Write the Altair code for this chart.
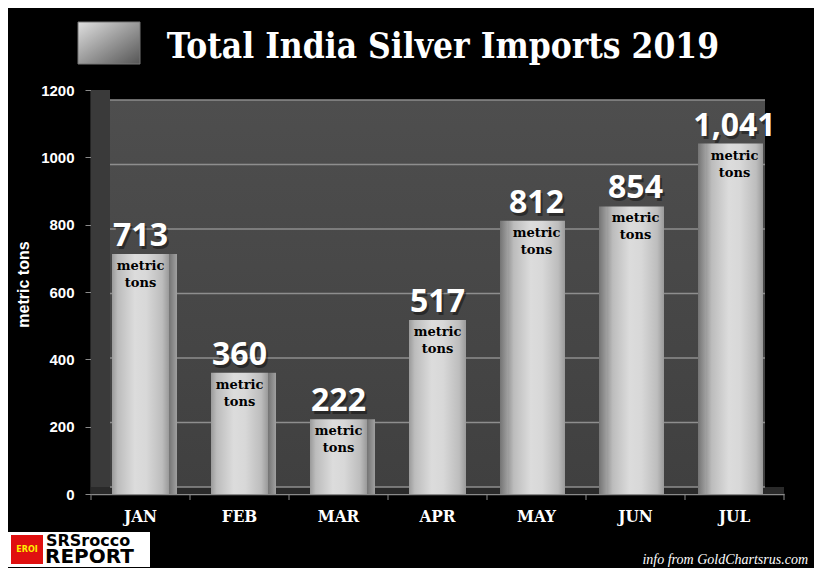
import altair as alt
import pandas as pd

# ---- data ----
months = ["JAN", "FEB", "MAR", "APR", "MAY", "JUN", "JUL"]
imports = [713, 360, 222, 517, 812, 854, 1041]
value_labels = ["713", "360", "222", "517", "812", "854", "1,041"]
unit_text = "metric\ntons"
y_ticks = [0, 200, 400, 600, 800, 1000, 1200]
title_text = "Total India Silver Imports 2019"
y_title = "metric tons"
source_note = "info from GoldChartsrus.com"
logo_top = "SRSrocco"
logo_bottom = "REPORT"
logo_badge = "EROI"

df = pd.DataFrame({"month": months, "tons": imports, "label": value_labels,
                   "unit": [unit_text] * len(months)})
grid_df = pd.DataFrame({"v": y_ticks})
one = pd.DataFrame({"k": [0]})

W, H = 693, 404
xsc = alt.Scale(domain=months, paddingInner=0, paddingOuter=0)
ysc = alt.Scale(domain=[0, 1200], nice=False)

def grad(stops, x2=1, y2=0):
    return {"gradient": "linear", "x1": 0, "y1": 0, "x2": x2, "y2": y2,
            "stops": [{"offset": o, "color": c} for o, c in stops]}

def X():
    return alt.X("month:N", sort=months, scale=xsc)

def Y():
    return alt.Y("tons:Q", scale=ysc, axis=None)

# decorative walls
side_wall = alt.Chart(one).mark_rect(color="#3a3a3a").encode(
    x=alt.value(0), x2=alt.value(19), y=alt.value(0), y2=alt.value(H))
back_wall = alt.Chart(one).mark_rect(color=grad([(0, "#4e4e4e"), (1, "#404040")], x2=0, y2=1)).encode(
    x=alt.value(19), x2=alt.value(674), y=alt.value(10), y2=alt.value(397))
floor = alt.Chart(one).mark_rect(color="#2a2a2a").encode(
    x=alt.value(0), x2=alt.value(W), y=alt.value(397), y2=alt.value(H))

grid = alt.Chart(grid_df).mark_rule(color="#8e8e8e", strokeWidth=1.6).encode(
    y=alt.Y("v:Q", scale=alt.Scale(domain=[0, 1200], range=[397, 10]), axis=None),
    x=alt.value(19), x2=alt.value(674))

bar_grad = grad([(0, "#9a9a9a"), (0.1, "#bcbcbc"), (0.4, "#dcdcdc"),
                 (0.6, "#d8d8d8"), (0.88, "#bdbdbd"), (1, "#9a9a9a")])
bars = alt.Chart(df).mark_bar(size=57, color=bar_grad).encode(
    x=alt.X("month:N", sort=months, scale=xsc,
            axis=alt.Axis(title=None, ticks=False, labelColor="white",
                          labelFont="DejaVu Serif Condensed", labelFontWeight="bold",
                          labelFontSize=17, labelPadding=14, labelAngle=0,
                          domainColor="#8a8a8a", domainWidth=1.5)),
    y=alt.Y("tons:Q", scale=ysc,
            axis=alt.Axis(values=y_ticks, format="d", title=y_title, grid=False,
                          labelColor="white", labelFont="Liberation Sans",
                          labelFontWeight="bold", labelFontSize=15, labelPadding=11,
                          tickColor="#8a8a8a", tickSize=6, domainColor="#8a8a8a",
                          domainWidth=1.5, titleColor="white", titleFont="Liberation Sans",
                          titleFontWeight="bold", titleFontSize=16, titleX=-60, titleY=194,
                          titleAngle=270)))

side_grad = grad([(0, "#747474"), (1, "#a0a0a0")])
side_right = alt.Chart(df).mark_bar(size=8, xOffset=32.5, color=side_grad).encode(
    x=X(), y=Y()
).transform_filter(alt.FieldOneOfPredicate(field="month", oneOf=months[:3]))
side_left = alt.Chart(df).mark_bar(size=8, xOffset=-32.5, color=side_grad).encode(
    x=X(), y=Y()
).transform_filter(alt.FieldOneOfPredicate(field="month", oneOf=months[4:]))

xtick = alt.Chart(df).mark_rule(color="#8a8a8a", xOffset=-49.5).encode(
    x=X(), y=alt.value(H), y2=alt.value(H + 6))
xtick_end = alt.Chart(one).mark_rule(color="#8a8a8a").encode(
    x=alt.value(W), y=alt.value(H), y2=alt.value(H + 6))

val_font = dict(font="Open Sans", fontWeight="bold", fontSize=32, baseline="alphabetic", align="center")
shadow = alt.Chart(df).mark_text(color="black", opacity=0.4, dx=2, dy=-5, **val_font).encode(
    x=X(), y=Y(), text="label:N")
values = alt.Chart(df).mark_text(color="white", dy=-8, **val_font).encode(
    x=X(), y=Y(), text="label:N")
units = alt.Chart(df).mark_text(color="black", font="DejaVu Serif", fontWeight="bold",
                                fontSize=13, baseline="top", dy=6, lineBreak="\n",
                                lineHeight=17).encode(
    x=X(), y=Y(), text="unit:N")

# title and icon
icon = alt.Chart(one).mark_rect(color=grad([(0, "#e0e0e0"), (0.5, "#9a9a9a"), (1, "#555555")], x2=1, y2=1),
                                stroke="#777777").encode(
    x=alt.value(-13), x2=alt.value(49), y=alt.value(-68), y2=alt.value(-26))
title = alt.Chart(pd.DataFrame({"t": [title_text]})).mark_text(
    color="white", font="DejaVu Serif Condensed", fontWeight="bold", fontSize=35,
    align="center", baseline="alphabetic").encode(
    x=alt.value(352), y=alt.value(-32), text="t:N")

# logo and source
logo_bg = alt.Chart(one).mark_rect(color="white").encode(
    x=alt.value(-83), x2=alt.value(59), y=alt.value(442), y2=alt.value(477))
logo_red = alt.Chart(one).mark_rect(color="#e01010").encode(
    x=alt.value(-80), x2=alt.value(-48), y=alt.value(445), y2=alt.value(474))
logo_badge_t = alt.Chart(pd.DataFrame({"t": [logo_badge]})).mark_text(
    color="#ffee00", font="DejaVu Sans", fontWeight="bold", fontSize=8, align="center").encode(
    x=alt.value(-64), y=alt.value(460), text="t:N")
logo_t1 = alt.Chart(pd.DataFrame({"t": [logo_top]})).mark_text(
    color="black", font="DejaVu Sans", fontWeight="bold", fontSize=16,
    align="left", baseline="alphabetic").encode(x=alt.value(-45), y=alt.value(456), text="t:N")
logo_t2 = alt.Chart(pd.DataFrame({"t": [logo_bottom]})).mark_text(
    color="black", font="DejaVu Sans", fontWeight="bold", fontSize=20,
    align="left", baseline="alphabetic").encode(x=alt.value(-46), y=alt.value(473), text="t:N")
source = alt.Chart(pd.DataFrame({"t": [source_note]})).mark_text(
    color="white", font="Liberation Sans Narrow", fontStyle="italic", fontSize=14,
    align="right", baseline="alphabetic").encode(x=alt.value(717), y=alt.value(474), text="t:N")

chart = alt.layer(
    side_wall, back_wall, floor, grid, bars, side_right, side_left, xtick, xtick_end,
    shadow, values, units, icon, title, logo_bg, logo_red, logo_badge_t, logo_t1, logo_t2, source
).resolve_scale(y="independent").properties(
    width=W, height=H,
    padding={"left": 83, "top": 82, "right": 30, "bottom": 74},
    autosize=alt.AutoSizeParams(type="none"),
).configure(background="black").configure_view(stroke=None)

chart.save("out.html", embed_options={"renderer": "svg", "actions": False})
